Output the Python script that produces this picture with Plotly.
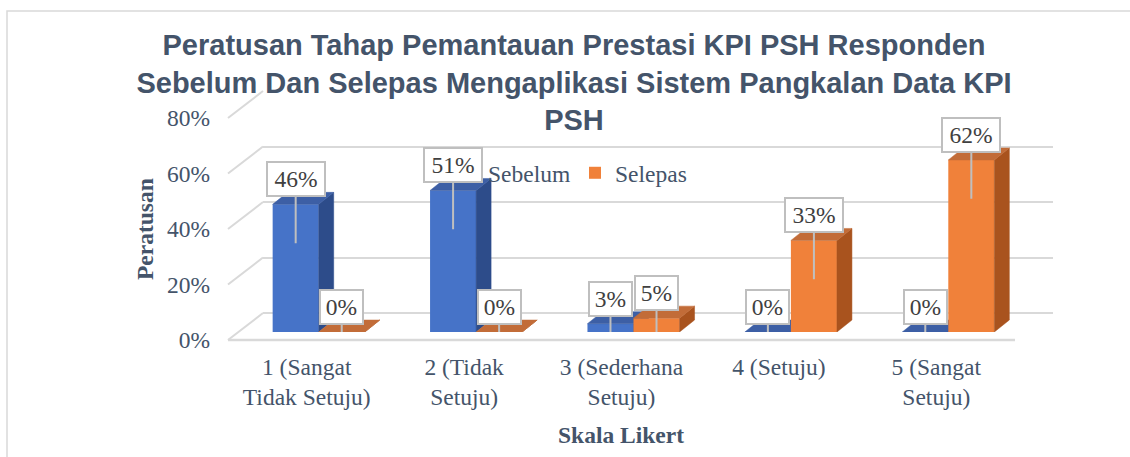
import plotly.graph_objects as go

# ---------------- data ----------------
categories = ["1 (Sangat<br>Tidak Setuju)", "2 (Tidak<br>Setuju)",
              "3 (Sederhana<br>Setuju)", "4 (Setuju)", "5 (Sangat<br>Setuju)"]
sebelum = [0.46, 0.51, 0.03, 0.0, 0.0]
selepas = [0.0, 0.0, 0.05, 0.33, 0.62]
y_ticks = [0.0, 0.2, 0.4, 0.6, 0.8]
series_names = ["Sebelum", "Selepas"]

# ---------------- geometry (pixels) ----------------
W, H = 1130, 457
def px_x(p):
    return p / W
def px_y(p):
    return 1 - p / H

BAR_L, BAR_R = 240, 1027          # bar plot area
BAR_BASE, BAR_TOP = 332, 110      # y px of 0 and 0.8
GRID_L, GRID_R = 263, 1053        # back wall
GRID_BASE, GRID_TOP = 313, 91
Y_MAX = 0.8
X_UNIT = (BAR_R - BAR_L) / len(categories)
Y_UNIT = (BAR_BASE - BAR_TOP) / Y_MAX
BAR_W = 0.2925
DX = 15 / X_UNIT
DY = 12 / Y_UNIT

TEXT = "#44546A"
FONT_SERIF = "Liberation Serif"
FONT_SANS = "Liberation Sans"

colors = {
    "Sebelum": dict(front="#4673C8", side="#2D4C8A", top="#3D5FA5"),
    "Selepas": dict(front="#F0813A", side="#A9531E", top="#C26C38"),
}

xs = list(range(len(categories)))
fig = go.Figure()

# back-wall gridlines subplot (x / y)
fig.add_trace(go.Scatter(x=[None], y=[None], xaxis="x", yaxis="y",
                         showlegend=False, hoverinfo="skip", mode="none"))


def face_traces(values, left_offset, name, yaxis):
    c = colors[name]
    sx, sy, tx, ty = [], [], [], []
    for i, v in zip(xs, values):
        x0 = i + left_offset
        x1 = x0 + BAR_W
        sx += [x1, x1 + DX, x1 + DX, x1, x1, None]
        sy += [0, DY, v + DY, v, 0, None]
        tx += [x0, x0 + DX, x1 + DX, x1, x0, None]
        ty += [v, v + DY, v + DY, v, v, None]
    return [
        go.Scatter(x=sx, y=sy, xaxis="x2", yaxis=yaxis, mode="lines", fill="toself",
                   fillcolor=c["side"], line=dict(color=c["side"], width=0.5),
                   showlegend=False, hoverinfo="skip"),
        go.Scatter(x=tx, y=ty, xaxis="x2", yaxis=yaxis, mode="lines", fill="toself",
                   fillcolor=c["top"], line=dict(color=c["top"], width=0.5),
                   showlegend=False, hoverinfo="skip"),
    ]


# Sebelum (blue) on x2/y2
fig.add_trace(go.Bar(x=xs, y=sebelum, name=series_names[0], xaxis="x2", yaxis="y2",
                     offset=-BAR_W, width=BAR_W,
                     marker=dict(color=colors["Sebelum"]["front"], line=dict(width=0))))
for t in face_traces(sebelum, -BAR_W, "Sebelum", "y2"):
    fig.add_trace(t)

# Selepas (orange) on x2/y3 (overlaying, drawn on top)
fig.add_trace(go.Bar(x=xs, y=selepas, name=series_names[1], xaxis="x2", yaxis="y3",
                     offset=0, width=BAR_W,
                     marker=dict(color=colors["Selepas"]["front"], line=dict(width=0))))
for t in face_traces(selepas, 0, "Selepas", "y3"):
    fig.add_trace(t)

# ---------------- callouts ----------------
annotations = []
for values, off in ((sebelum, -BAR_W / 2), (selepas, BAR_W / 2)):
    for i, v in zip(xs, values):
        tip = max(v - 0.14, 0)
        ay = -((v - tip) * Y_UNIT + 25)
        label = f"{round(v * 100)}%"
        annotations.append(dict(
            x=i + off, y=tip, xref="x2", yref="y2", text=label,
            showarrow=True, arrowhead=0, arrowwidth=2, arrowcolor="#BFBFBF",
            ax=0, ay=ay, bgcolor="white", bordercolor="#BFBFBF", borderwidth=2,
            borderpad=2, width=37 if len(label) == 2 else 52, height=28,
            font=dict(family=FONT_SERIF, size=23.5, color="#404040")))

# axis titles
annotations.append(dict(text="<b>Peratusan</b>", x=px_x(145), y=px_y(229),
                        xref="paper", yref="paper", showarrow=False, textangle=-90,
                        xanchor="center", yanchor="middle",
                        font=dict(family=FONT_SERIF, size=23.5, color=TEXT)))
annotations.append(dict(text="<b>Skala Likert</b>", x=px_x(621), y=px_y(435),
                        xref="paper", yref="paper", showarrow=False,
                        xanchor="center", yanchor="middle",
                        font=dict(family=FONT_SERIF, size=23.5, color=TEXT)))

# ---------------- decorative floor / wall edges ----------------
shapes = []
LINE = "#D9D9D9"
FLOOR_LEFT = 228
for t in y_ticks:
    fy = BAR_BASE + 8 - t * Y_UNIT
    gy = GRID_BASE - t * (GRID_BASE - GRID_TOP) / Y_MAX
    shapes.append(dict(type="line", xref="paper", yref="paper",
                       x0=px_x(FLOOR_LEFT), y0=px_y(fy), x1=px_x(GRID_L), y1=px_y(gy),
                       line=dict(color=LINE, width=2)))
shapes.append(dict(type="line", xref="paper", yref="paper",
                   x0=px_x(FLOOR_LEFT), y0=px_y(BAR_BASE + 8), x1=px_x(1015), y1=px_y(BAR_BASE + 8),
                   line=dict(color=LINE, width=2.5)))
# outer chart border
shapes.append(dict(type="rect", xref="paper", yref="paper",
                   x0=px_x(7), y0=px_y(470), x1=px_x(1140), y1=px_y(11),
                   line=dict(color="#D9D9D9", width=1.5)))

fig.update_layout(
    width=W, height=H,
    margin=dict(l=0, r=0, t=0, b=0, pad=0, autoexpand=False),
    paper_bgcolor="white", plot_bgcolor="rgba(0,0,0,0)",
    barmode="overlay",
    title=dict(text="<b>Peratusan Tahap Pemantauan Prestasi KPI PSH Responden<br>"
                    "Sebelum Dan Selepas Mengaplikasi Sistem Pangkalan Data KPI<br>PSH</b>",
               x=px_x(574), xanchor="center", xref="paper",
               y=px_y(55), yanchor="top", yref="container",
               font=dict(family=FONT_SANS, size=29, color=TEXT)),
    legend=dict(orientation="h", x=px_x(448), y=px_y(173), xanchor="left", yanchor="middle",
                bgcolor="rgba(0,0,0,0)", font=dict(family=FONT_SERIF, size=23.5, color=TEXT),
                itemwidth=30, entrywidth=82, entrywidthmode="pixels"),
    xaxis=dict(domain=[px_x(GRID_L), px_x(GRID_R)], range=[0, 1], anchor="y",
               showgrid=False, zeroline=False, showticklabels=False, showline=False,
               fixedrange=True),
    yaxis=dict(domain=[px_y(GRID_BASE), px_y(GRID_TOP)], range=[0, Y_MAX], anchor="x",
               tickvals=y_ticks, showgrid=True, gridcolor=LINE, gridwidth=2,
               zeroline=True, zerolinecolor=LINE, zerolinewidth=2,
               showticklabels=False, showline=False, fixedrange=True),
    xaxis2=dict(domain=[px_x(BAR_L), px_x(BAR_R)], range=[-0.5, len(categories) - 0.5],
                anchor="y2", tickvals=xs, ticktext=categories,
                showgrid=False, zeroline=False, showline=False, ticks="",
                ticklabelshift=-12, ticklabelstandoff=18,
                tickfont=dict(family=FONT_SERIF, size=23.5, color=TEXT), fixedrange=True),
    yaxis2=dict(domain=[px_y(BAR_BASE), px_y(BAR_TOP)], range=[0, Y_MAX], anchor="x2",
                tickvals=y_ticks, tickformat=".0%", showgrid=False, zeroline=False,
                showline=False, ticks="", ticklabelshift=8, ticklabelstandoff=29,
                tickfont=dict(family=FONT_SERIF, size=23.5, color=TEXT), fixedrange=True),
    yaxis3=dict(domain=[px_y(BAR_BASE), px_y(BAR_TOP)], range=[0, Y_MAX], anchor="x2",
                overlaying="y2", visible=False, fixedrange=True),
    annotations=annotations,
    shapes=shapes,
)

fig.write_html("out.html", config={"displayModeBar": False},
               post_script="document.body.style.margin='0';")
